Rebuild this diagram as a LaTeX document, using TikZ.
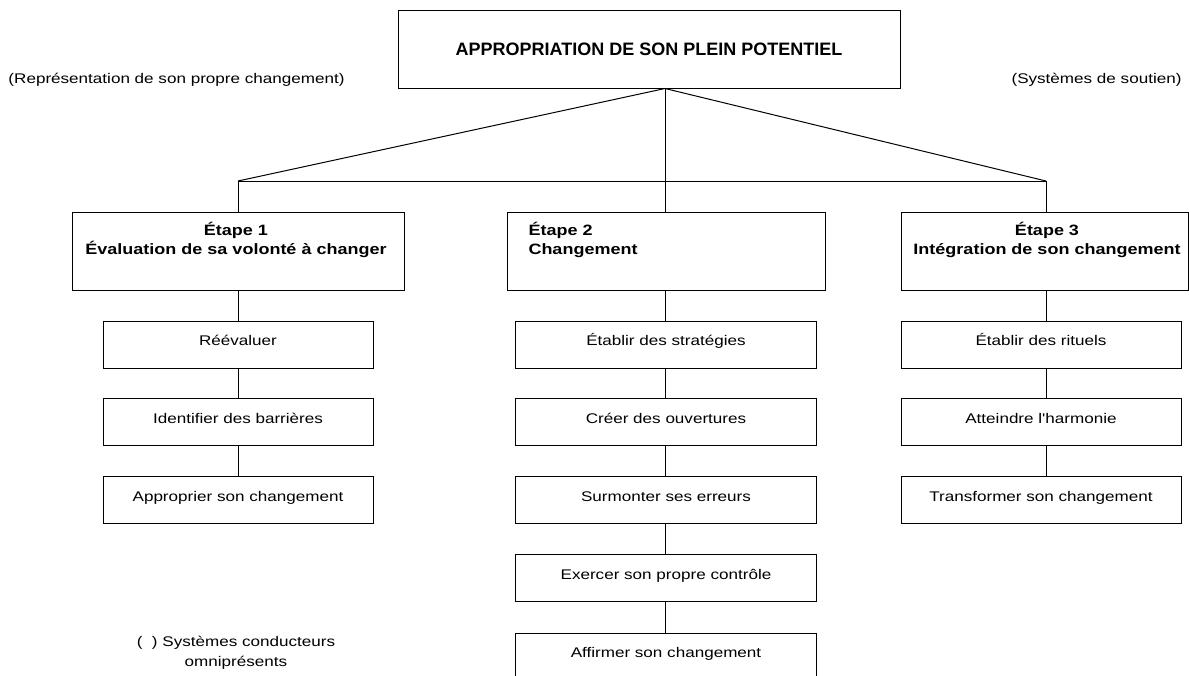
\documentclass[tikz,border=0pt]{standalone}
\usepackage{fontspec}
\setmainfont{Liberation Sans}
\newfontfamily\regf[FakeStretch=1.22]{Liberation Sans}
\newfontfamily\stepf[FakeStretch=1.2]{Liberation Sans}
\begin{document}
\begin{tikzpicture}[x=1pt,y=-1pt,line width=1pt,
  box/.style={draw,rectangle,inner sep=0pt},
  sub/.style={box,font=\regf\fontsize{14}{16}\selectfont,text height=11pt,text depth=9pt},
  steptext/.style={font=\stepf\bfseries\fontsize{15}{19}\selectfont,inner sep=0pt},
  note/.style={font=\regf\fontsize{14}{20}\selectfont,inner sep=0pt}]
\clip (0,0) rectangle (1189,675);
\fill[white] (0,0) rectangle (1189,675);

% title
\node[box,minimum width=502pt,minimum height=78pt,font=\bfseries\fontsize{18}{20}\selectfont] (t) at (649,49) {APPROPRIATION DE SON PLEIN POTENTIEL};

% side notes
\node[note,anchor=west] (n1) at (8,80) {(Représentation de son propre changement)};
\node[note,anchor=east] (n2) at (1182,80) {(Systèmes de soutien)};
\node[note,align=center] (n3) at (236,653) {(\ \ ) Systèmes conducteurs\\omniprésents};

% branch coordinates
\coordinate (c1) at (238,181);
\coordinate (c2) at (665,181);
\coordinate (c3) at (1046,181);

% step boxes
\node[box,minimum width=332pt,minimum height=78pt] (s1) at (238,251) {};
\node[box,minimum width=318pt,minimum height=78pt] (s2) at (666,251) {};
\node[box,minimum width=287.5pt,minimum height=78pt] (s3) at (1044.75,251) {};
\node[steptext,align=center] (s1t) at (236,240) {Étape 1\\Évaluation de sa volonté à changer};
\node[steptext,align=left,anchor=west] (s2t) at (528,240) {Étape 2\\Changement};
\node[steptext,align=center] (s3t) at (1047,240) {Étape 3\\Intégration de son changement};

% column 1
\node[sub,minimum width=270pt,minimum height=47pt] (a1) at (238,344.5) {Réévaluer};
\node[sub,minimum width=270pt,minimum height=47pt] (a2) at (238,422) {Identifier des barrières};
\node[sub,minimum width=270pt,minimum height=47pt] (a3) at (238,500) {Approprier son changement};

% column 2
\node[sub,minimum width=301pt,minimum height=47pt] (b1) at (666,344.5) {Établir des stratégies};
\node[sub,minimum width=301pt,minimum height=47pt] (b2) at (666,422) {Créer des ouvertures};
\node[sub,minimum width=301pt,minimum height=47pt] (b3) at (666,500) {Surmonter ses erreurs};
\node[sub,minimum width=301pt,minimum height=47pt] (b4) at (666,578) {Exercer son propre contrôle};
\node[sub,minimum width=301pt,minimum height=47pt] (b5) at (666,656.5) {Affirmer son changement};

% column 3
\node[sub,minimum width=280pt,minimum height=47pt] (d1) at (1041,344.5) {Établir des rituels};
\node[sub,minimum width=280pt,minimum height=47pt] (d2) at (1041,422) {Atteindre l'harmonie};
\node[sub,minimum width=280pt,minimum height=47pt] (d3) at (1041,500) {Transformer son changement};

% top connectors
\draw (c2 |- t.south) -- (c1);
\draw (c2 |- t.south) -- (c3);
\draw (c1) -- (c3);
\draw (c1) -- (c1 |- s1.north);
\draw (c2 |- t.south) -- (c2 |- s2.north);
\draw (c3) -- (c3 |- s3.north);

% column connectors
\draw (c1 |- s1.south) -- (c1 |- a1.north);
\draw (c1 |- a1.south) -- (c1 |- a2.north);
\draw (c1 |- a2.south) -- (c1 |- a3.north);
\draw (c2 |- s2.south) -- (c2 |- b1.north);
\draw (c2 |- b1.south) -- (c2 |- b2.north);
\draw (c2 |- b2.south) -- (c2 |- b3.north);
\draw (c2 |- b3.south) -- (c2 |- b4.north);
\draw (c2 |- b4.south) -- (c2 |- b5.north);
\draw (c3 |- s3.south) -- (c3 |- d1.north);
\draw (c3 |- d1.south) -- (c3 |- d2.north);
\draw (c3 |- d2.south) -- (c3 |- d3.north);
\end{tikzpicture}
\end{document}
